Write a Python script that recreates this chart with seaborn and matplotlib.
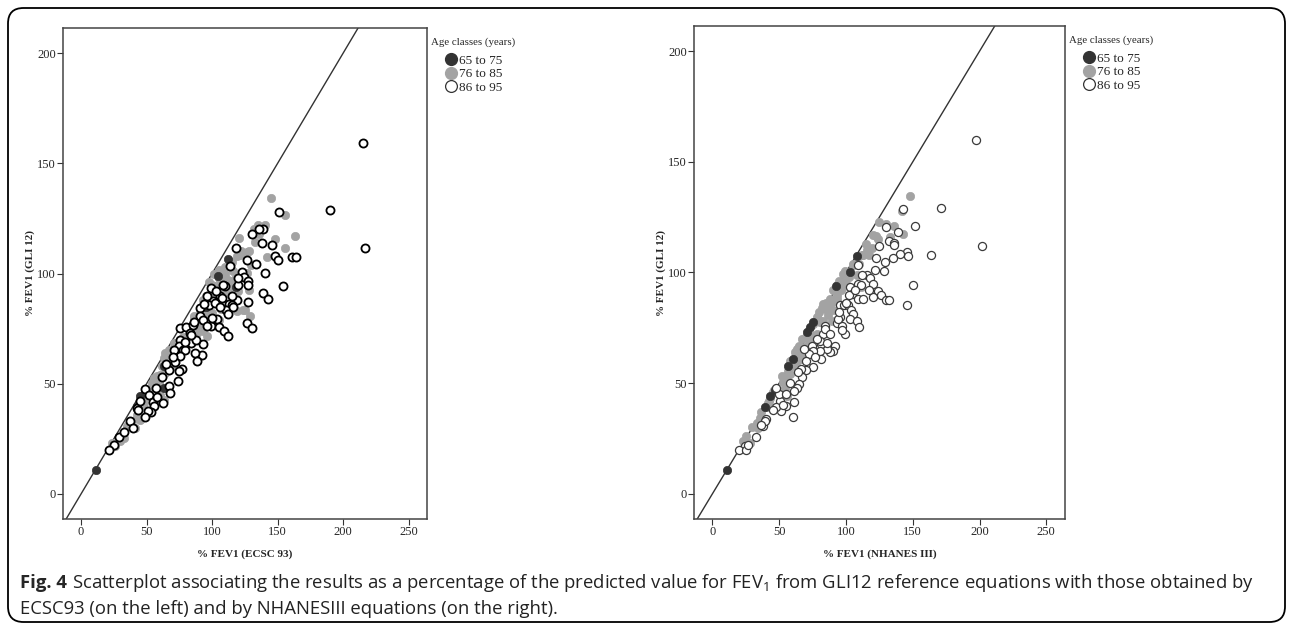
import numpy as np
import pandas as pd
import matplotlib
matplotlib.use("Agg")
import matplotlib.pyplot as plt
from matplotlib.lines import Line2D
from matplotlib.patches import FancyBboxPatch
import seaborn as sns

# ---------------- data ----------------
groups = ["65 to 75", "76 to 85", "86 to 95"]

left_dark_x = [11.7, 112, 118, 104.4, 63, 63, 45.2, 42.7, 95]
left_dark_y = [10.9, 106.7, 94, 98.8, 57.9, 48, 44.2, 39.7, 85]

left_gray_x = [144.8, 156, 163.6, 155.7, 148.3, 141.8, 135.4, 131.6, 132.9, 120.4, 128.5, 126.5, 118.9, 121.4,
               104.9, 101.1, 116.3, 117.6, 115.1, 106.2, 103.1, 128.3, 129, 126.5, 113.3, 118.9, 123.9, 93.4,
               96, 90.9, 88.4, 96, 84.6, 83.3, 101.1, 104.9, 125.2, 85.8, 88.4, 93.4, 96, 90.9, 80.8, 77.7,
               70.6, 66.8, 64.3, 63, 65.5, 61.7, 57.9, 59.1, 55.3, 54.1, 57.9, 60.4, 63, 50.3, 47.7, 45.2,
               42.7, 45.2, 38.9, 35.1, 41.4, 32.5, 30, 23.6, 26.1, 110, 98, 108, 100,
               100, 95, 105, 110, 112, 97, 92, 86, 82, 78, 72, 68, 60, 56, 52, 48, 115, 122, 130, 136, 140,
               107, 100, 120, 86, 70, 64]
left_gray_y = [134.1, 126.5, 116.8, 111.4, 115.8, 107.4, 121.8, 120, 114.2, 116, 110, 109.9, 107.9, 108.2,
               101.8, 100, 101, 97.6, 94.2, 97.3, 94.2, 92.7, 80.6, 100.3, 90.5, 82.9, 83.6, 88.2,
               85.9, 82.1, 77.6, 81.4, 76.8, 75.3, 77.6, 79.1, 83.3, 80.6, 73, 73.8, 71.5, 76, 70, 68.5,
               68.5, 65.5, 64, 61.7, 59.4, 57.9, 53.3, 50.3, 52.6, 50.3, 48, 45, 42.7, 44.2, 41.2, 39.7,
               35.9, 33.6, 32.9, 30.6, 29.9, 25.3, 23.8, 23, 21.5, 103, 96, 92, 90,
               95, 90, 98, 100, 97, 82, 80, 74, 72, 71, 66, 62, 54, 50, 47, 44, 105, 110, 104, 118, 122,
               84, 82, 92, 80, 58, 55]

left_open_x = [215, 190, 216.7, 151, 139, 135.7, 130.8, 138, 118.4, 146, 148, 150, 160.8, 164.3, 126.5, 133.6,
               113.8, 140, 154.4, 122.7, 124.5, 127.7, 127.7, 119.4, 109.5, 99, 139.2, 143, 106.2, 107.5,
               118.9, 127.7, 101, 98, 112.8, 115.5, 91, 110.5, 112.5, 91, 92.7, 104, 127, 130.3, 99.3, 105.4,
               75.7, 80, 85.4, 102.4, 116.3, 109.2, 112, 82.8, 75.2, 74.4, 77.7, 70.6, 79, 84, 93, 92.2,
               87.1, 88.4, 75.2, 67.3, 61.7, 77, 74.9, 73.6, 66.8, 68.1, 62.2, 48.5, 52, 54.6, 55.3, 53.6,
               51, 48.5, 42.7, 43.4, 37, 40, 28.7, 25.4, 21,
               96, 94, 103, 108, 100, 96, 88, 84, 79, 72, 70, 65, 57, 58, 45, 33, 120, 115, 106, 86]
left_open_y = [159, 128.6, 111.5, 128, 120.3, 120, 118, 114, 111.7, 112.9, 108, 106, 107.4, 107.4, 106, 104.4,
               103.3, 100.3, 94.2, 100.6, 98.3, 96.8, 95, 95, 94.5, 93.3, 91.2, 88.5, 89.7, 89,
               87.9, 87, 87.4, 85.5, 86.2, 85.5, 84.4, 83.3, 81.4, 80.6, 79.1, 79.4, 77.6, 75.3, 76.4, 75.6,
               75.3, 75.6, 76.8, 86.7, 84.9, 73.8, 71.8, 73, 70, 67, 65.5, 65.1, 65.5, 68.5, 68, 63.2,
               64, 60.5, 62.4, 56.4, 52.9, 56.8, 55.6, 51.4, 49.1, 46, 41.2, 47.6, 45, 41.7, 39.7, 37.1,
               37.7, 34.7, 39, 38.2, 32.9, 30.1, 25.6, 22, 19.7,
               90, 86, 92, 95, 80, 76, 70, 72, 69, 60, 62, 59, 48, 44, 42, 28, 98, 90, 85, 78]

right_dark_x = [11, 75.5, 70.5, 73, 56.7, 60, 39.2, 43, 108.5, 92.3, 103, 47]
right_dark_y = [10.9, 77.6, 73, 75.3, 57.9, 60.9, 39, 44.2, 107.4, 94, 100.3, 47]

right_gray_x = [148, 142.2, 125, 136.2, 142.5, 133, 122.5, 124.2, 119.3, 115.5, 113, 117.5, 105, 99.2, 97.5,
                108, 111.2, 98, 93, 93, 88, 83, 90.5, 86.7, 89.3, 79.2, 83, 75.5, 89.3, 85.5, 80.5, 75.5,
                73, 70.5, 63, 65.5, 66.8, 63, 60.5, 56.7, 55.5, 53, 54.2, 55.5, 45.5, 43, 41.7, 40.5, 35.5,
                33, 34.2, 25.5, 23, 28, 102, 96, 86, 78, 68, 58, 48, 100, 110,
                105, 100, 95, 90, 85, 82, 78, 72, 67, 62, 58, 52, 46, 42, 36, 30, 115, 120, 130, 87, 93, 97,
                112, 80, 70, 65]
right_gray_y = [134.7, 127.6, 122.6, 121, 117.3, 116.2, 116.7, 115.1, 111.2, 110.1, 107.9, 107.9, 103.3, 100.6, 99.5,
                98.8, 93.5, 95.8, 94.2, 89.7, 88.2, 85.9, 82.9, 80.6, 78.3, 79.1, 78.3, 76.8, 86.7, 82.9, 77.6, 71.5,
                69.2, 67, 65.5, 63.2, 60.9, 60.1, 57.9, 55.6, 52.6, 50.3, 48, 44.2, 45.8, 43.5, 41.2, 39, 34.4,
                32.1, 29.9, 26, 23.8, 23, 98, 92, 84, 72, 66, 54, 46, 95, 104,
                104, 100, 96, 92, 86, 84, 80, 74, 70, 64, 60, 53, 47, 42, 37, 30, 113, 117, 122, 85, 88, 93,
                108, 82, 71, 67]

right_open_x = [197, 171, 201.5, 143, 151.8, 130, 139.2, 132.5, 135.8, 136.2, 124.5, 145.5, 146.7, 163.5, 140.5,
                135.5, 122.5, 129.3, 128.7, 121.7, 109.2, 115.5, 118, 120, 150.5, 109.2, 111, 103, 104.3, 102.5,
                109.2, 123.8, 126.3, 120, 130, 132.5, 146, 95.5, 98.7, 101.7, 103.8, 105.5, 103, 95.5, 93, 96.8,
                108, 109.7, 84.2, 99.2, 96.8, 94.2, 91.7, 90, 88, 85.5, 81.2, 80.5, 81.2, 83, 84.2, 80.5, 74.3,
                75.5, 72.2, 68.5, 75, 70, 66.2, 67, 65, 63, 61.2, 61, 60, 55, 51.2, 50.5, 47.5, 50, 47.5, 40,
                38, 39.2, 32.5, 24.2, 20, 24.8,
                95, 100, 107, 112, 117, 113, 88, 86, 78, 77, 70, 64, 58, 55, 53, 45, 36, 27]
right_open_y = [159.7, 129.1, 112, 128.8, 121, 120.6, 118.5, 114.4, 113.5, 112.4, 112.1, 109.1, 107.6, 107.9, 108.5,
                106.7, 106.7, 104.9, 100.6, 101, 103.6, 98.8, 97.3, 95, 94.5, 95, 94.5, 93.5, 90.5, 90,
                88.2, 91.5, 89.7, 88.9, 87.4, 87.7, 85.5, 85.5, 85.1, 85.1, 82.9, 81.4, 79.1, 79.9, 77.3, 75.8,
                77.9, 75.3, 76, 72.3, 73.8, 79.1, 67, 64.7, 64, 65.5, 67.7, 64.7, 60.9, 72.3, 74.5, 69.2, 67,
                64.7, 63.2, 65.5, 57.1, 56, 56.4, 52.6, 49.5, 47.6, 46.5, 41.5, 34.7, 39.7, 37.4, 42, 39, 45, 48, 33.6,
                30.6, 32.9, 25.8, 21.5, 19.7, 20,
                82, 86, 92, 99, 92, 88, 72, 68, 70, 62, 60, 55, 50, 45, 40, 38, 31, 22]

x_labels = ["% FEV1 (ECSC 93)", "% FEV1 (NHANES III)"]
y_label = "% FEV1 (GLI 12)"
ticks = [0, 50, 100, 150, 200, 250]
yticks = [0, 50, 100, 150, 200]
legend_title = "Age classes (years)"

# ---------------- styling ----------------
sns.set_style("white")
plt.rcParams["font.family"] = ["Liberation Serif", "DejaVu Serif"]
plt.rcParams["mathtext.fontset"] = "custom"
plt.rcParams["mathtext.rm"] = "Open Sans"

DARK = "#333333"
GRAY = "#a3a3a3"

fig = plt.figure(figsize=(12.92, 6.26), dpi=100)
W, H = 1292, 626

def frac(x0, y0, x1, y1):
    return [x0 / W, 1 - y1 / H, (x1 - x0) / W, (y1 - y0) / H]

ax_l = fig.add_axes(frac(63, 28, 427, 519))
ax_r = fig.add_axes(frac(694, 26, 1065, 519))

panels = [
    (ax_l, left_dark_x, left_dark_y, left_gray_x, left_gray_y, left_open_x, left_open_y, x_labels[0], "black", 1.3),
    (ax_r, right_dark_x, right_dark_y, right_gray_x, right_gray_y, right_open_x, right_open_y, x_labels[1], "#3a3a3a", 0.9),
]

for ax, dx, dy, gx, gy, ox, oy, xl, oedge, olw in panels:
    dfd = pd.DataFrame({"x": dx, "y": dy})
    dfg = pd.DataFrame({"x": gx, "y": gy})
    dfo = pd.DataFrame({"x": ox, "y": oy})
    sns.scatterplot(data=dfg, x="x", y="y", ax=ax, color=GRAY, edgecolor=GRAY, s=36, linewidth=0.5, zorder=3)
    sns.scatterplot(data=dfd, x="x", y="y", ax=ax, color=DARK, edgecolor=DARK, s=36, linewidth=0.5, zorder=4)
    sns.scatterplot(data=dfo, x="x", y="y", ax=ax, color="white", edgecolor=oedge, s=34, linewidth=olw, zorder=5)
    ax.axline((0, 0), (1, 1), color="#333333", lw=1.0, zorder=2)
    ax.set_xlim(-13.8, 264)
    ax.set_ylim(-11.4, 211.4)
    ax.set_xticks(ticks)
    ax.set_yticks(yticks)
    ax.tick_params(axis="both", which="both", direction="out", length=4, width=0.8,
                   color="#333333", labelsize=9, pad=1, left=True, bottom=True)
    for sp in ax.spines.values():
        sp.set_color("#444444")
        sp.set_linewidth(1.1)
    ax.set_xlabel(xl, fontsize=8, fontweight="bold", labelpad=8)
    ax.set_ylabel(y_label, fontsize=8, fontweight="bold", labelpad=2)

    handles = [
        Line2D([], [], marker="o", linestyle="", markersize=8.5, markerfacecolor=DARK, markeredgecolor=DARK),
        Line2D([], [], marker="o", linestyle="", markersize=8.5, markerfacecolor=GRAY, markeredgecolor=GRAY),
        Line2D([], [], marker="o", linestyle="", markersize=8.5, markerfacecolor="white",
               markeredgecolor="#333333", markeredgewidth=0.9),
    ]
    leg = ax.legend(handles, groups, title=legend_title, loc="upper left",
                    bbox_to_anchor=(1.012, 0.98), frameon=False, fontsize=9.5,
                    title_fontsize=7.8, handletextpad=0.05, labelspacing=0.1,
                    handlelength=1.0, borderaxespad=0, borderpad=0)
    leg._legend_box.sep = 5

# border around figure
border = FancyBboxPatch((8 / W, 4 / H), (1285 - 8) / W, (618 - 4) / H,
                        boxstyle="round,pad=0,rounding_size=0.012",
                        transform=fig.transFigure, fill=False, edgecolor="black",
                        linewidth=1.3, mutation_aspect=W / H)
fig.patches.append(border)

# caption
cap_font = ["Open Sans", "DejaVu Sans"]
FS = 13.3
t1 = fig.text(20 / W, 1 - 583 / H, "Fig. 4", fontsize=FS, fontweight="bold",
              family=cap_font, va="center", ha="left")
fig.canvas.draw()
bb = t1.get_window_extent()
fig.text(bb.x1 / W + 5 / W, 1 - 583 / H,
         r"Scatterplot associating the results as a percentage of the predicted value for FEV$_{\mathregular{1}}$ from GLI12 reference equations with those obtained by",
         fontsize=FS, family=cap_font, va="center", ha="left", color="#222222")
fig.text(20 / W, 1 - 609 / H,
         "ECSC93 (on the left) and by NHANESIII equations (on the right).",
         fontsize=FS, family=cap_font, va="center", ha="left", color="#222222")

fig.savefig("out.png", dpi=100)
